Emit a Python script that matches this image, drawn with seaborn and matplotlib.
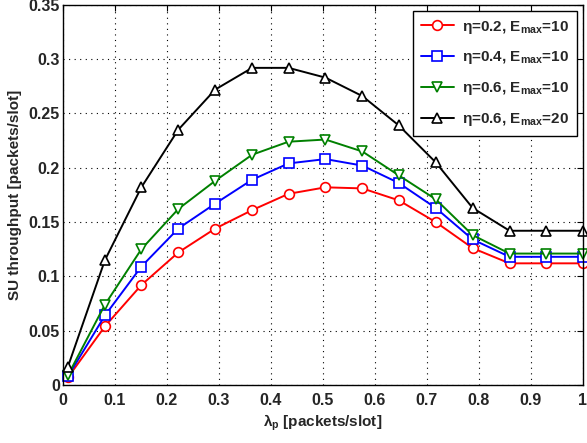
import matplotlib
matplotlib.use("Agg")
import matplotlib.pyplot as plt
import seaborn as sns
import pandas as pd
from matplotlib.ticker import FuncFormatter

# data
lam_p = [0.01, 0.081, 0.151, 0.222, 0.293, 0.364, 0.434, 0.505, 0.576, 0.646, 0.717, 0.788, 0.859, 0.929, 1.0]
eta02_e10 = [0.007, 0.054, 0.092, 0.122, 0.144, 0.161, 0.176, 0.182, 0.181, 0.170, 0.150, 0.126, 0.112, 0.112, 0.112]
eta04_e10 = [0.008, 0.064, 0.109, 0.144, 0.167, 0.189, 0.204, 0.208, 0.202, 0.186, 0.163, 0.134, 0.118, 0.118, 0.118]
eta06_e10 = [0.009, 0.074, 0.125, 0.162, 0.188, 0.212, 0.224, 0.226, 0.215, 0.193, 0.171, 0.138, 0.121, 0.121, 0.121]
eta06_e20 = [0.017, 0.115, 0.182, 0.235, 0.272, 0.292, 0.292, 0.283, 0.266, 0.239, 0.205, 0.163, 0.142, 0.142, 0.142]

labels = ["η=0.2, E$_{max}$=10", "η=0.4, E$_{max}$=10", "η=0.6, E$_{max}$=10", "η=0.6, E$_{max}$=20"]
colors = ["#ff0000", "#0000ff", "#008000", "#000000"]
markers = ["o", "s", "v", "^"]

df = pd.DataFrame({"lam": lam_p, labels[0]: eta02_e10, labels[1]: eta04_e10,
                   labels[2]: eta06_e10, labels[3]: eta06_e20})

sns.set_style("white")
plt.rcParams["font.family"] = ["Liberation Sans", "DejaVu Sans"]
plt.rcParams["font.weight"] = "bold"
plt.rcParams["mathtext.fontset"] = "custom"
plt.rcParams["mathtext.rm"] = "Liberation Sans:bold"
plt.rcParams["mathtext.it"] = "Liberation Sans:bold"
plt.rcParams["mathtext.bf"] = "Liberation Sans:bold"

fig = plt.figure(figsize=(5.87, 4.43), dpi=100)
ax = fig.add_axes([0.107, 0.131, 0.886, 0.858])

for lab, c, m in zip(labels, colors, markers):
    sns.lineplot(data=df, x="lam", y=lab, ax=ax, color=c, marker=m, label=lab,
                 linewidth=1.4, markersize=7, markerfacecolor="white",
                 markeredgecolor=c, markeredgewidth=1.2, clip_on=False)

ax.set_xlim(0, 1)
ax.set_ylim(0, 0.35)
ax.set_xticks([i / 10 for i in range(11)])
ax.set_yticks([i * 0.05 for i in range(8)])
fmt = FuncFormatter(lambda v, p: "%g" % round(v, 2))
ax.xaxis.set_major_formatter(fmt)
ax.yaxis.set_major_formatter(fmt)
ax.tick_params(direction="in", labelsize=11.5, length=4, color="black", top=True, right=True)
ax.tick_params(axis="x", pad=6)
ax.tick_params(axis="y", pad=2)
for t in ax.get_xticklabels() + ax.get_yticklabels():
    t.set_fontweight("bold")
for s in ax.spines.values():
    s.set_color("black")
    s.set_linewidth(1.0)
ax.grid(True, linestyle=(0, (1, 4)), color="black", linewidth=0.8)

ax.set_xlabel("λ$_p$ [packets/slot]", fontsize=11, fontweight="bold", labelpad=3)
ax.set_ylabel("SU throughput [packets/slot]", fontsize=11, fontweight="bold", labelpad=5)

leg = ax.legend(loc="upper right", fontsize=11, frameon=True, fancybox=False,
                borderaxespad=0.4, handlelength=2.2, handletextpad=0.5,
                labelspacing=0.9, borderpad=0.5)
leg.get_frame().set_edgecolor("black")
leg.get_frame().set_linewidth(1.0)
leg.get_frame().set_alpha(1)

fig.savefig("out.png", dpi=100)
